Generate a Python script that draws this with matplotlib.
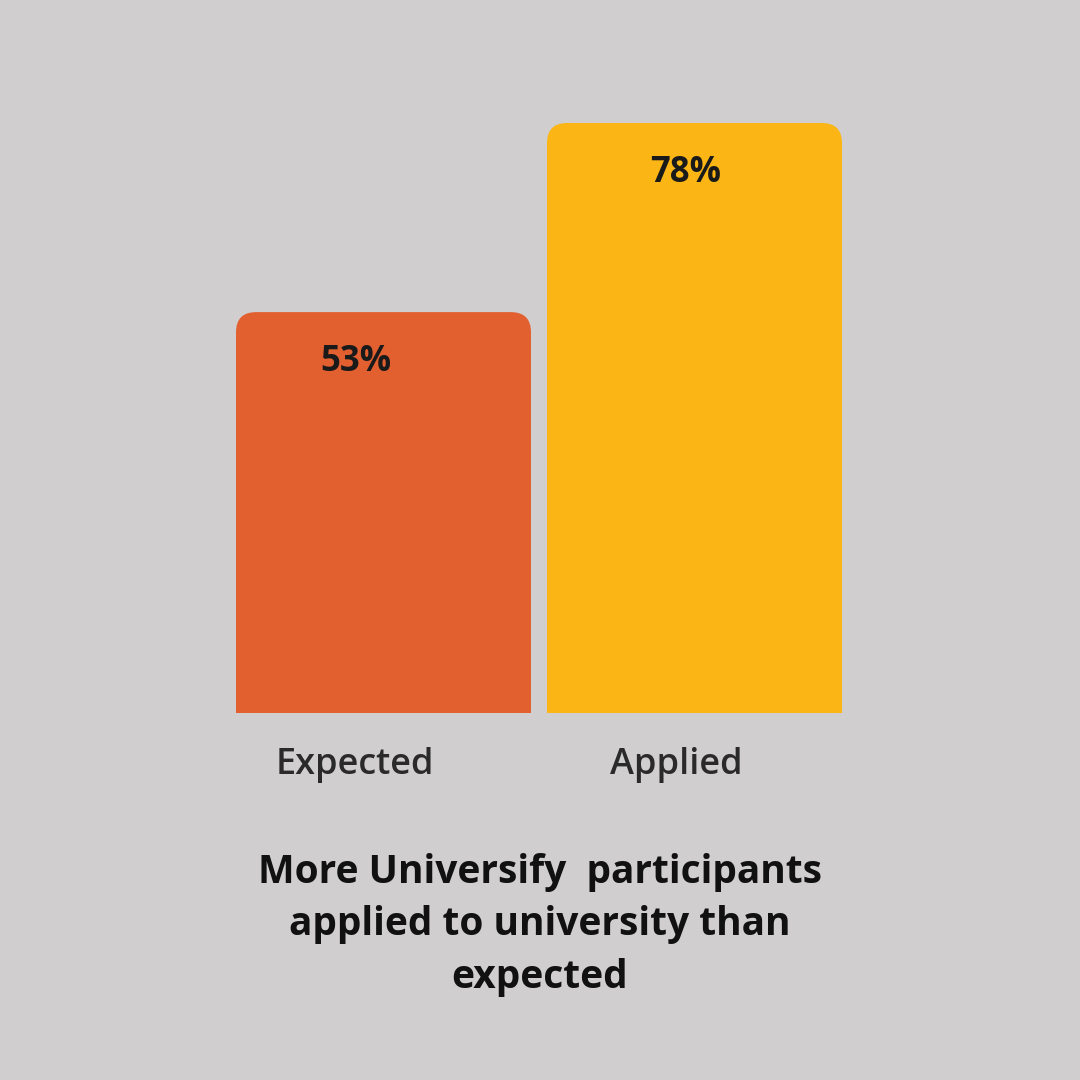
import matplotlib.pyplot as plt
from matplotlib.patches import FancyBboxPatch

categories = ["Expected", "Applied"]
values = [53, 78]
bar_colors = ["#E2602F", "#FBB615"]
label_shift = [-0.09, -0.03]
title = "More Universify  participants\napplied to university than\nexpected"

bg = "#D0CECF"
plt.rcParams['font.family'] = ['Open Sans', 'DejaVu Sans']

fig = plt.figure(figsize=(10.8, 10.8), dpi=100, facecolor=bg)
ax = fig.add_axes([236/1080, 1 - 713/1080, 606/1080, 590/1080])
ax.set_facecolor(bg)
w = 295/311
ax.set_xlim(-w/2, 1 + w/2)
ax.set_ylim(0, 78)
ax.axis("off")

for i, (v, c) in enumerate(zip(values, bar_colors)):
    p = FancyBboxPatch((i - w/2, -10), w, v + 10,
                       boxstyle="round,pad=0,rounding_size=0.065",
                       mutation_aspect=41, fc=c, ec="none")
    p.set_clip_path(ax.patch)
    ax.add_patch(p)
    ax.text(i + label_shift[i], v - 6.6, f"{v}%", ha="center", va="center",
            fontsize=25, fontweight="bold", color="#1a1a1a")

xs = [355/1080, 676/1080]
for x, name in zip(xs, categories):
    fig.text(x, 1 - 765/1080, name, ha="center", va="center",
             fontsize=26, fontweight="semibold", color="#2a2a2a")

fig.text(0.5, 1 - 925/1080, title, ha="center", va="center",
         fontsize=28, fontweight="bold", color="#111111", linespacing=1.45)

fig.savefig("out.png", dpi=100, facecolor=bg)
